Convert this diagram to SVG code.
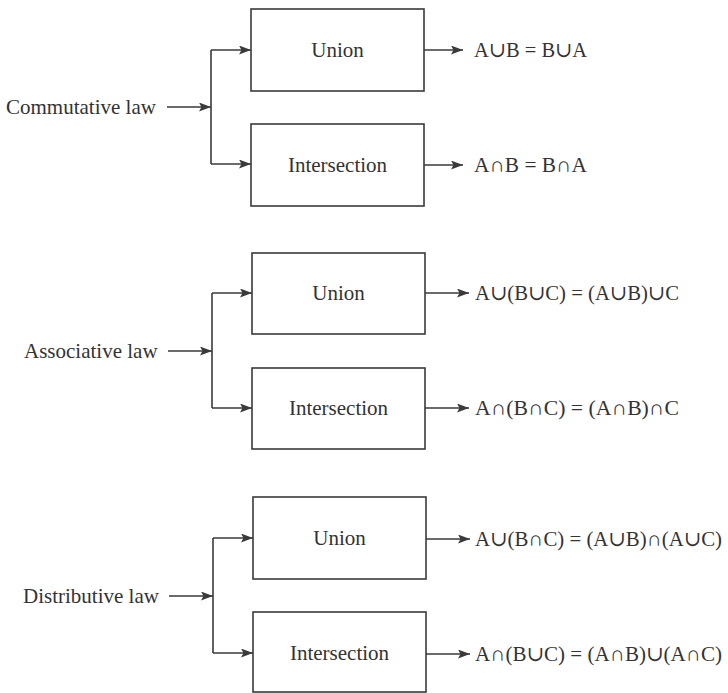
<svg xmlns="http://www.w3.org/2000/svg" width="728" height="693" viewBox="0 0 728 693">
<style>
.bg{fill:#ffffff}
.box{fill:#ffffff;stroke:#3a3a3a;stroke-width:1.6}
.t{font-family:"Liberation Serif","Times New Roman","DejaVu Serif",serif;font-size:21px;fill:#333333}
.m{font-family:"Liberation Serif","DejaVu Serif",serif;font-size:21px;fill:#333333}
.c{fill:none;stroke:#3a3a3a;stroke-width:1.6}
</style>
<defs>
<marker id="ah" viewBox="0 0 12 9" refX="12" refY="4.5" markerWidth="12" markerHeight="9" markerUnits="userSpaceOnUse" orient="auto">
<path d="M0,0 L12,4.5 L0,9 L2.5,4.5 Z" fill="#3a3a3a"/>
</marker>
</defs>
<rect class="bg" x="0" y="0" width="728" height="693"/>

<g id="connectors">
<!-- Commutative -->
<path class="c" d="M167,107 H211" marker-end="url(#ah)"/>
<path class="c" d="M211,50 V164"/>
<path class="c" d="M211,50 H251" marker-end="url(#ah)"/>
<path class="c" d="M211,164 H251" marker-end="url(#ah)"/>
<path class="c" d="M424,50 H463" marker-end="url(#ah)"/>
<path class="c" d="M424,165 H463" marker-end="url(#ah)"/>
<!-- Associative -->
<path class="c" d="M168,351 H212" marker-end="url(#ah)"/>
<path class="c" d="M212,293 V408"/>
<path class="c" d="M212,293 H252" marker-end="url(#ah)"/>
<path class="c" d="M212,408 H252" marker-end="url(#ah)"/>
<path class="c" d="M425,293 H469" marker-end="url(#ah)"/>
<path class="c" d="M425,408 H469" marker-end="url(#ah)"/>
<!-- Distributive -->
<path class="c" d="M169,596 H213" marker-end="url(#ah)"/>
<path class="c" d="M213,538 V653"/>
<path class="c" d="M213,538 H253" marker-end="url(#ah)"/>
<path class="c" d="M213,653 H253" marker-end="url(#ah)"/>
<path class="c" d="M426,539 H470" marker-end="url(#ah)"/>
<path class="c" d="M426,654 H470" marker-end="url(#ah)"/>
</g>

<g id="commutative-law"><text class="t" x="6" y="114">Commutative law</text></g>
<g id="comm-union"><rect class="box" x="251" y="9" width="173" height="82"/><text class="t" x="337.5" y="57" text-anchor="middle">Union</text></g>
<g id="comm-intersection"><rect class="box" x="251" y="124" width="173" height="82"/><text class="t" x="337.5" y="172" text-anchor="middle">Intersection</text></g>
<g id="comm-union-result"><text class="m" x="474" y="57" textLength="113" lengthAdjust="spacingAndGlyphs">A∪B = B∪A</text></g>
<g id="comm-intersection-result"><text class="m" x="474" y="172" textLength="113" lengthAdjust="spacingAndGlyphs">A∩B = B∩A</text></g>

<g id="associative-law"><text class="t" x="24" y="358">Associative law</text></g>
<g id="assoc-union"><rect class="box" x="252" y="253" width="173" height="81"/><text class="t" x="338.5" y="300" text-anchor="middle">Union</text></g>
<g id="assoc-intersection"><rect class="box" x="252" y="368" width="173" height="81"/><text class="t" x="338.5" y="415" text-anchor="middle">Intersection</text></g>
<g id="assoc-union-result"><text class="m" x="475" y="300" textLength="204" lengthAdjust="spacingAndGlyphs">A∪(B∪C) = (A∪B)∪C</text></g>
<g id="assoc-intersection-result"><text class="m" x="475" y="415" textLength="204" lengthAdjust="spacingAndGlyphs">A∩(B∩C) = (A∩B)∩C</text></g>

<g id="distributive-law"><text class="t" x="23" y="603">Distributive law</text></g>
<g id="dist-union"><rect class="box" x="253" y="497" width="173" height="82"/><text class="t" x="339.5" y="545" text-anchor="middle">Union</text></g>
<g id="dist-intersection"><rect class="box" x="253" y="612" width="173" height="80"/><text class="t" x="339.5" y="660" text-anchor="middle">Intersection</text></g>
<g id="dist-union-result"><text class="m" x="475" y="546" textLength="247" lengthAdjust="spacingAndGlyphs">A∪(B∩C) = (A∪B)∩(A∪C)</text></g>
<g id="dist-intersection-result"><text class="m" x="475" y="661" textLength="247" lengthAdjust="spacingAndGlyphs">A∩(B∪C) = (A∩B)∪(A∩C)</text></g>
</svg>
